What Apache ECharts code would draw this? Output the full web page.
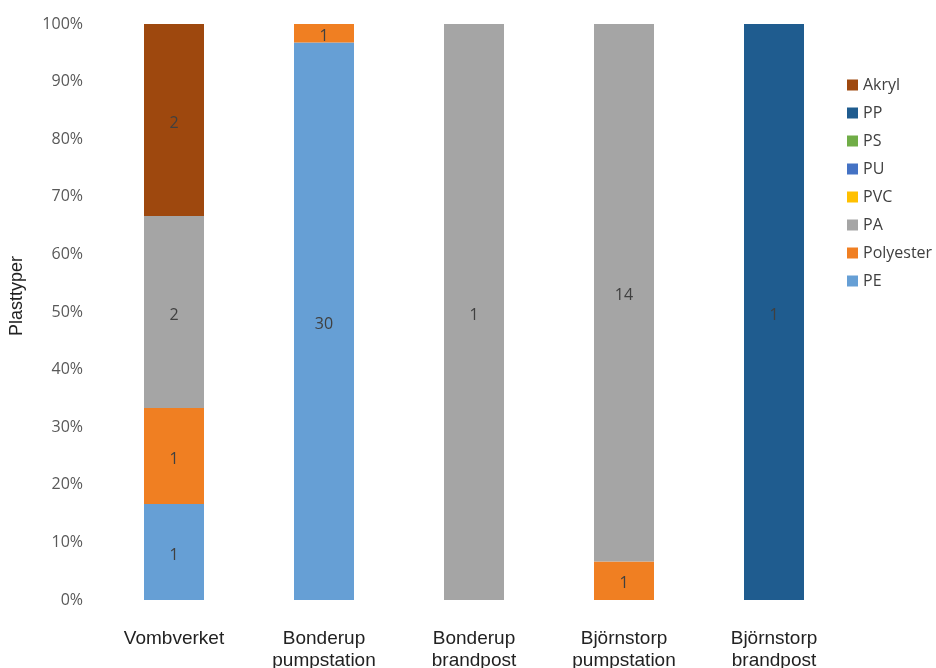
<!DOCTYPE html>
<html>
<head>
<meta charset="utf-8">
<script src="https://cdn.jsdelivr.net/npm/echarts@6/dist/echarts.min.js"></script>
<style>
  html, body { margin: 0; padding: 0; background: #ffffff; }
  #chart { width: 936px; height: 668px; }
</style>
</head>
<body>
<div id="chart"></div>
<script>
// Sampling sites (x axis)
const categories = ['Vombverket', 'Bonderup\npumpstation', 'Bonderup\nbrandpost', 'Björnstorp\npumpstation', 'Björnstorp\nbrandpost'];

// Particle counts per plastic type at each site
const PE        = [1, 30, 0, 0, 0];
const Polyester = [1, 1, 0, 1, 0];
const PA        = [2, 0, 1, 14, 0];
const PVC       = [0, 0, 0, 0, 0];
const PU        = [0, 0, 0, 0, 0];
const PS        = [0, 0, 0, 0, 0];
const PP        = [0, 0, 0, 0, 1];
const Akryl     = [2, 0, 0, 0, 0];

const yTicks = [0, 10, 20, 30, 40, 50, 60, 70, 80, 90, 100];

const seriesDefs = [
  { name: 'PE',        data: PE,        color: '#669FD5' },
  { name: 'Polyester', data: Polyester, color: '#F07F22' },
  { name: 'PA',        data: PA,        color: '#A5A5A5' },
  { name: 'PVC',       data: PVC,       color: '#FFC000' },
  { name: 'PU',        data: PU,        color: '#4472C4' },
  { name: 'PS',        data: PS,        color: '#70AD47' },
  { name: 'PP',        data: PP,        color: '#1F5C8F' },
  { name: 'Akryl',     data: Akryl,     color: '#9E480E' }
];

// Totals per site, used to turn counts into shares of 100 %
const totals = categories.map((_, i) => seriesDefs.reduce((s, d) => s + d.data[i], 0));

const series = seriesDefs.map(d => ({
  name: d.name,
  type: 'bar',
  stack: 'all',
  barWidth: 60,
  itemStyle: { color: d.color },
  label: {
    show: true,
    position: 'inside',
    offset: [0, 3],
    color: '#404040',
    fontSize: 16,
    fontFamily: 'Open Sans',
    formatter: p => p.data && p.data.count ? String(p.data.count) : ''
  },
  data: d.data.map((c, i) => c > 0 ? { value: c / totals[i] * 100, count: c } : '-')
}));

const chart = echarts.init(document.getElementById('chart'), null, { renderer: 'canvas' });
chart.setOption({
  animation: false,
  backgroundColor: '#ffffff',
  grid: { left: 99, right: 87, top: 24, bottom: 68, outerBoundsMode: 'none', containLabel: false },
  graphic: [{
    type: 'text',
    x: 17,
    y: 296,
    rotation: Math.PI / 2,
    style: {
      text: 'Plasttyper',
      fill: '#222222',
      fontSize: 18,
      fontFamily: 'Liberation Sans',
      align: 'center',
      verticalAlign: 'middle'
    }
  }],
  legend: {
    orient: 'vertical',
    left: 847,
    top: 77,
    padding: 0,
    itemWidth: 11,
    itemHeight: 11,
    itemGap: 12,
    icon: 'rect',
    textStyle: { color: '#404040', fontSize: 16, fontFamily: 'Open Sans' },
    data: seriesDefs.map(d => d.name).reverse()
  },
  xAxis: {
    type: 'category',
    data: categories,
    axisLine: { show: false },
    axisTick: { show: false },
    axisLabel: {
      color: '#222222',
      fontSize: 19,
      fontFamily: 'Liberation Sans',
      margin: 28,
      lineHeight: 22,
      interval: 0
    }
  },
  yAxis: {
    type: 'value',
    min: yTicks[0],
    max: yTicks[yTicks.length - 1],
    interval: 10,
    axisLine: { show: false },
    axisTick: { show: false },
    splitLine: { show: false },
    axisLabel: {
      color: '#595959',
      fontSize: 16,
      fontFamily: 'Open Sans',
      margin: 16,
      formatter: '{value}%'
    }
  },
  series: series
});
</script>
</body>
</html>
